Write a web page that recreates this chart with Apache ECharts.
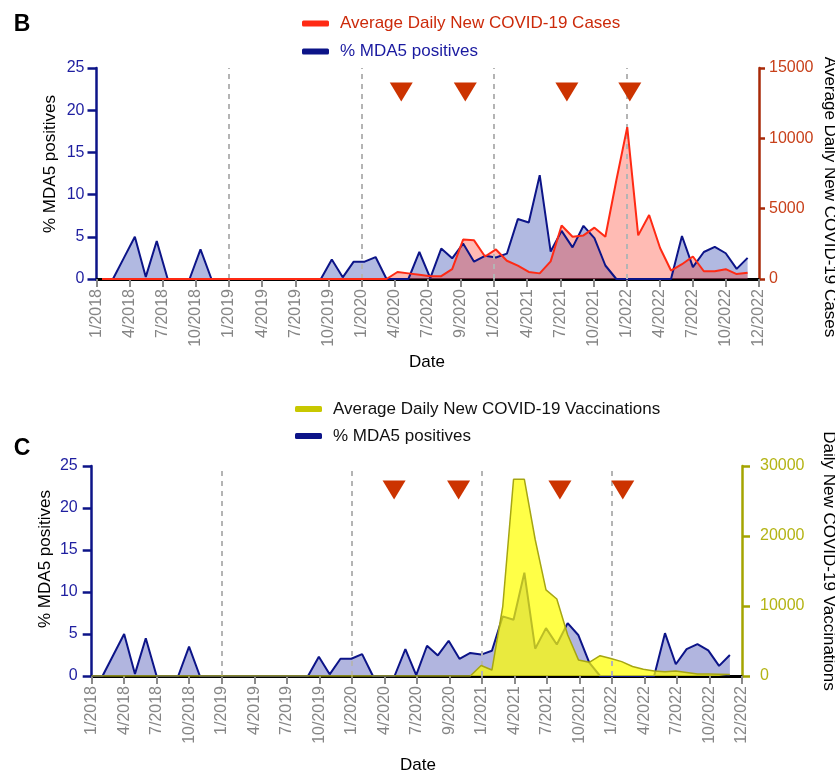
<!DOCTYPE html>
<html>
<head>
<meta charset="utf-8">
<script src="https://cdn.jsdelivr.net/npm/echarts@6/dist/echarts.min.js"></script>
<style>
  html, body { margin: 0; padding: 0; background: #fff; }
  #chart { width: 835px; height: 774px; }
</style>
</head>
<body>
<div id="chart"></div>
<script>
// ---- Data (monthly, Jan 2018 .. Dec 2022) ----
const tickLabels = ['1/2018','4/2018','7/2018','10/2018','1/2019','4/2019','7/2019','10/2019',
  '1/2020','4/2020','7/2020','9/2020','1/2021','4/2021','7/2021','10/2021',
  '1/2022','4/2022','7/2022','10/2022','12/2022'];

// % MDA5 positives per month
const mda5 = [0, 0, 2.5, 5.0, 0.25, 4.5, 0, 0, 0, 3.5,
  0, 0, 0, 0, 0, 0, 0, 0, 0, 0,
  0, 2.3, 0.2, 2.05, 2.05, 2.6, 0, 0, 0, 3.2,
  0.1, 3.6, 2.45, 4.2, 2.05, 2.75, 2.55, 3.0, 7.1, 6.7,
  12.3, 3.25, 5.7, 3.75, 6.3, 4.85, 1.6, 0, 0, 0,
  0, 0, 0, 5.1, 1.4, 3.2, 3.8, 3.05, 1.2, 2.5];

// Average daily new COVID-19 cases per month
const cases = [0, 0, 0, 0, 0, 0, 0, 0, 0, 0,
  0, 0, 0, 0, 0, 0, 0, 0, 0, 0,
  0, 0, 0, 0, 0, 0, 0, 500, 400, 300,
  200, 200, 700, 2800, 2750, 1600, 2100, 1300, 950, 500,
  400, 1250, 3800, 3000, 3100, 3650, 3000, 7000, 10800, 3100,
  4550, 2200, 600, 1050, 1600, 550, 550, 700, 350, 450];

// Average daily new COVID-19 vaccinations per month
const vacc = [0, 0, 0, 0, 0, 0, 0, 0, 0, 0,
  0, 0, 0, 0, 0, 0, 0, 0, 0, 0,
  0, 0, 0, 0, 0, 0, 0, 0, 0, 0,
  0, 0, 0, 0, 0, 0, 1500, 850, 9900, 28100,
  28100, 19500, 12300, 11000, 5900, 2300, 1950, 2900, 2500, 2050,
  1350, 950, 700, 600, 700, 500, 300, 300, 250, 200];

// year boundaries (months from 1/2018) and marker dates (months from 1/2018)
const yearStarts = [12, 24, 36, 48];
const markersTop = [27.6, 33.4, 42.6, 48.3];
const markersBottom = [27.9, 33.85, 43.2, 49.0];
const markerLevel = 22.15;

// month position of each monthly point on the two panels
const topOffset = 0.5, topStep = 0.991;
const botOffset = 0, botStep = 0.998;
const posTop = mda5.map((_, i) => topOffset + topStep * i);
const posBot = mda5.map((_, i) => botOffset + botStep * i);
const zip = (xs, ys) => xs.map((x, i) => [x, ys[i]]);

const FONT = "'Liberation Sans', Arial, Helvetica, sans-serif";
const NAVY = '#0c1488';
const RED = '#ff2a14';
const OLIVE = '#a6a612';

function xAxisCfg(grid) {
  return {
    gridIndex: grid, type: 'value', min: 0, max: 60, interval: 3,
    axisLine: { show: true, onZero: false, lineStyle: { color: '#000', width: 3 } },
    axisTick: { show: true, length: 8, lineStyle: { color: '#8a8a8a', width: 2 } },
    axisLabel: {
      rotate: 90, color: '#858585', fontSize: 16, fontFamily: FONT, margin: 10,
      showMinLabel: true, showMaxLabel: true,
      formatter: v => tickLabels[Math.round(v / 3)] || ''
    },
    splitLine: { show: false }
  };
}
function leftAxisCfg(grid, margin) {
  return {
    gridIndex: grid, type: 'value', min: 0, max: 25, interval: 5, position: 'left',
    axisLine: { show: true, onZero: false, lineStyle: { color: NAVY, width: 2.5 } },
    axisTick: { show: true, length: 9, lineStyle: { color: NAVY, width: 2.5 } },
    axisLabel: { color: '#1e1ea0', fontSize: 16, fontFamily: FONT, margin: margin },
    splitLine: { show: false }
  };
}
function rightAxisCfg(grid, max, interval, lineColor, labelColor, margin, tick) {
  return {
    gridIndex: grid, type: 'value', min: 0, max: max, interval: interval, position: 'right',
    axisLine: { show: true, onZero: false, lineStyle: { color: lineColor, width: 2.5 } },
    axisTick: { show: true, length: tick, lineStyle: { color: lineColor, width: 2.5 } },
    axisLabel: { color: labelColor, fontSize: 16, fontFamily: FONT, margin: margin, formatter: v => String(v) },
    splitLine: { show: false }
  };
}
const dashLines = {
  silent: true, symbol: ['none', 'none'], label: { show: false },
  lineStyle: { color: '#b4b4b4', type: [5, 5], width: 2 },
  data: yearStarts.map(m => ({ xAxis: m }))
};
function triangles(xi, yi, months) {
  return {
    type: 'scatter', xAxisIndex: xi, yAxisIndex: yi, silent: true,
    symbol: 'triangle', symbolRotate: 180, symbolSize: [23, 19],
    itemStyle: { color: '#cc3300', opacity: 1 }, z: 10,
    data: months.map(m => [m, markerLevel])
  };
}

const chart = echarts.init(document.getElementById('chart'), null, { renderer: 'canvas' });
chart.setOption({
  animation: false,
  backgroundColor: '#fff',
  textStyle: { fontFamily: FONT },
  grid: [
    { left: 96.5, right: 76, top: 68, bottom: 495 },
    { left: 91.7, right: 93, top: 466, bottom: 98 }
  ],
  xAxis: [xAxisCfg(0), xAxisCfg(1)],
  yAxis: [
    leftAxisCfg(0, 12),
    rightAxisCfg(0, 15000, 5000, '#a82a08', '#c8401a', 10, 6),
    leftAxisCfg(1, 14),
    rightAxisCfg(1, 30000, 10000, '#a4a400', '#b4b414', 18, 8)
  ],
  legend: [
    {
      left: 302, top: 13.5, padding: 0, orient: 'vertical', itemWidth: 27, itemHeight: 6, itemGap: 8,
      icon: 'roundRect', selectedMode: false,
      textStyle: { fontSize: 17, fontFamily: FONT, lineHeight: 20, padding: [0, 0, 0, 6] },
      data: [
        { name: 'Average Daily New COVID-19 Cases', itemStyle: { color: RED }, textStyle: { color: '#cc2a0a' } },
        { name: '% MDA5 positives', itemStyle: { color: NAVY }, textStyle: { color: '#1a1aa0' } }
      ]
    },
    {
      left: 295, top: 399, padding: 0, orient: 'vertical', itemWidth: 27, itemHeight: 6, itemGap: 7,
      icon: 'roundRect', selectedMode: false,
      textStyle: { fontSize: 17, fontFamily: FONT, lineHeight: 20, color: '#111', padding: [0, 0, 0, 6] },
      data: [
        { name: 'Average Daily New COVID-19 Vaccinations', itemStyle: { color: '#c8c800' } },
        { name: '% MDA5 positives', itemStyle: { color: NAVY } }
      ]
    }
  ],
  graphic: [
    { type: 'text', x: 22, y: 25, style: { text: 'B', fill: '#000', font: 'bold 23px ' + FONT, align: 'center', verticalAlign: 'middle' } },
    { type: 'text', x: 22, y: 449, style: { text: 'C', fill: '#000', font: 'bold 23px ' + FONT, align: 'center', verticalAlign: 'middle' } },
    { type: 'text', x: 50, y: 164, rotation: Math.PI / 2, style: { text: '% MDA5 positives', fill: '#000', font: '17px ' + FONT, align: 'center', verticalAlign: 'middle' } },
    { type: 'text', x: 45, y: 559, rotation: Math.PI / 2, style: { text: '% MDA5 positives', fill: '#000', font: '17px ' + FONT, align: 'center', verticalAlign: 'middle' } },
    { type: 'text', x: 830, y: 197, rotation: -Math.PI / 2, style: { text: 'Average Daily New COVID-19 Cases', fill: '#000', font: '17px ' + FONT, align: 'center', verticalAlign: 'middle' } },
    { type: 'text', x: 829, y: 561, rotation: -Math.PI / 2, style: { text: 'Daily New COVID-19 Vaccinations', fill: '#000', font: '17px ' + FONT, align: 'center', verticalAlign: 'middle' } },
    { type: 'text', x: 427, y: 362, style: { text: 'Date', fill: '#000', font: '17px ' + FONT, align: 'center', verticalAlign: 'middle' } },
    { type: 'text', x: 418, y: 765, style: { text: 'Date', fill: '#000', font: '17px ' + FONT, align: 'center', verticalAlign: 'middle' } }
  ],
  series: [
    // ---- panel B ----
    { name: 'mda5AreaB', type: 'line', xAxisIndex: 0, yAxisIndex: 0, data: zip(posTop, mda5),
      showSymbol: false, silent: true, lineStyle: { width: 0 }, areaStyle: { color: 'rgba(60,80,180,0.4)', opacity: 1 },
      z: 2, markLine: dashLines },
    { name: 'casesArea', type: 'line', xAxisIndex: 0, yAxisIndex: 1, data: zip(posTop, cases),
      showSymbol: false, silent: true, lineStyle: { width: 0 }, areaStyle: { color: 'rgba(255,60,40,0.35)', opacity: 1 }, z: 3 },
    { name: '% MDA5 positives', type: 'line', xAxisIndex: 0, yAxisIndex: 0, data: zip(posTop, mda5),
      showSymbol: false, itemStyle: { color: NAVY }, lineStyle: { color: NAVY, width: 2 }, z: 4 },
    { name: 'Average Daily New COVID-19 Cases', type: 'line', xAxisIndex: 0, yAxisIndex: 1, data: zip(posTop, cases),
      showSymbol: false, itemStyle: { color: RED }, lineStyle: { color: RED, width: 2 }, z: 5 },
    triangles(0, 0, markersTop),
    // ---- panel C ----
    { name: 'mda5AreaC', type: 'line', xAxisIndex: 1, yAxisIndex: 2, data: zip(posBot, mda5),
      showSymbol: false, silent: true, lineStyle: { width: 0 }, areaStyle: { color: 'rgba(60,70,175,0.4)', opacity: 1 },
      z: 2, markLine: dashLines },
    { name: 'mda5LineC', type: 'line', xAxisIndex: 1, yAxisIndex: 2, data: zip(posBot, mda5),
      showSymbol: false, itemStyle: { color: NAVY }, lineStyle: { color: NAVY, width: 2 }, z: 3 },
    { name: 'vaccArea', type: 'line', xAxisIndex: 1, yAxisIndex: 3, data: zip(posBot, vacc),
      showSymbol: false, silent: true, lineStyle: { width: 0 }, areaStyle: { color: 'rgba(255,255,0,0.72)', opacity: 1 }, z: 4 },
    { name: 'Average Daily New COVID-19 Vaccinations', type: 'line', xAxisIndex: 1, yAxisIndex: 3, data: zip(posBot, vacc),
      showSymbol: false, itemStyle: { color: '#c8c800' }, lineStyle: { color: OLIVE, width: 1.5 }, z: 5 },
    triangles(1, 2, markersBottom)
  ]
});
</script>
</body>
</html>
